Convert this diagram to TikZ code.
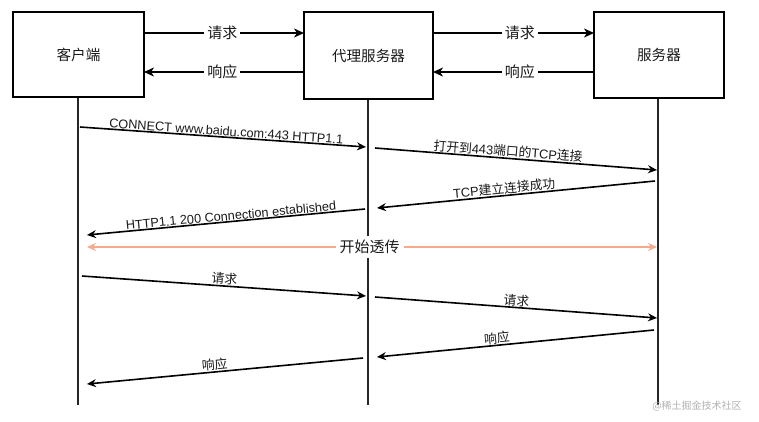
\documentclass[tikz,border=0pt]{standalone}
\usepackage{fontspec}
\setmainfont{Noto Sans CJK SC}
\newfontfamily\lat{Liberation Sans}
\usetikzlibrary{arrows.meta}
\definecolor{txt}{HTML}{1A1A1A}
\definecolor{orng}{RGB}{245,170,140}
\begin{document}
\begin{tikzpicture}[x=1pt,y=-1pt,
  box/.style={draw, line width=1.8pt, inner sep=0pt, text=txt, font=\fontsize{14.6}{16}\selectfont},
  life/.style={line width=1.6pt, draw=black!85},
  msg/.style={line width=1.6pt, -{Stealth[length=9pt,width=8pt,inset=3pt]}},
  top/.style={line width=1.8pt, -{Stealth[length=10pt,width=9pt,inset=3pt]}},
  tlab/.style={fill=white, text=txt, inner sep=3pt, font=\fontsize{15}{17}\selectfont},
  mlab/.style={sloped, above, inner sep=0.5pt, text=txt, font=\fontsize{12.8}{14}\selectfont},
  llab/.style={sloped, above, inner sep=0.5pt, text=txt, font=\lat\fontsize{12.7}{14}\selectfont}
]
\useasboundingbox (0,0) rectangle (759,421);
\fill[white] (0,0) rectangle (759,421);

% boxes
\node[box, minimum width=131pt, minimum height=85pt] (cli) at (78.5,54.5) {客户端};
\node[box, minimum width=129pt, minimum height=87pt] (pxy) at (368.5,55.5) {代理服务器};
\node[box, minimum width=130pt, minimum height=86pt] (srv) at (659,55) {服务器};

% lifeline ends
\coordinate (cliE) at (78,405);
\coordinate (pxyE) at (368,405);
\coordinate (srvE) at (658,405);
\draw[life] (cli.south -| cliE) -- (cliE);
\draw[life] (pxy.south -| pxyE) -- (pxyE);
\draw[life] (srv.south -| srvE) -- (srvE);

% top arrows
\coordinate (a1s) at (144,33); \coordinate (a1e) at (304,33);
\coordinate (a2s) at (304,72); \coordinate (a2e) at (144,72);
\coordinate (a3s) at (433,33); \coordinate (a3e) at (594,33);
\coordinate (a4s) at (594,72); \coordinate (a4e) at (433,72);
\draw[top] (a1s) -- node[tlab, pos=0.49] (l1) {请求} (a1e);
\draw[top] (a2s) -- node[tlab, pos=0.51] (l2) {响应} (a2e);
\draw[top] (a3s) -- node[tlab, pos=0.54] (l3) {请求} (a3e);
\draw[top] (a4s) -- node[tlab, pos=0.46] (l4) {响应} (a4e);

% messages
\coordinate (m1s) at (80,127);  \coordinate (m1e) at (366,147);
\coordinate (m2s) at (375,148); \coordinate (m2e) at (657,170);
\coordinate (m3s) at (655,181); \coordinate (m3e) at (377,208);
\coordinate (m4s) at (365,209); \coordinate (m4e) at (87,235);
\coordinate (m6s) at (82,276);  \coordinate (m6e) at (366,296);
\coordinate (m7s) at (375,297); \coordinate (m7e) at (657,318);
\coordinate (m8s) at (654,330); \coordinate (m8e) at (377,357);
\coordinate (m9s) at (363,358); \coordinate (m9e) at (87,384);

\draw[msg] (m1s) -- node[llab, pos=0.51] (t1) {CONNECT www.baidu.com:443 HTTP1.1} (m1e);
\draw[msg] (m2s) -- node[mlab, pos=0.47] (t2) {打开到{\lat 443}端口的{\lat TCP}连接} (m2e);
\draw[msg] (m3s) -- node[mlab, pos=0.54] (t3) {{\lat TCP}建立连接成功} (m3e);
\draw[msg] (m4s) -- node[llab, pos=0.48] (t4) {HTTP1.1 200 Connection established} (m4e);
\draw[msg] (m6s) -- node[mlab, pos=0.5] (t6) {请求} (m6e);
\draw[msg] (m7s) -- node[mlab, pos=0.5] (t7) {请求} (m7e);
\draw[msg] (m8s) -- node[mlab, pos=0.565] (t8) {响应} (m8e);
\draw[msg] (m9s) -- node[mlab, pos=0.535] (t9) {响应} (m9e);

% transparent tunnel
\coordinate (o1) at (87,247); \coordinate (o2) at (657,247);
\draw[line width=1.6pt, draw=orng, {Stealth[length=9pt,width=8pt,inset=3pt]}-{Stealth[length=9pt,width=8pt,inset=3pt]}] (o1) -- node[tlab, pos=0.496, inner sep=4pt] (t5) {开始透传} (o2);

% watermark
\node[text=black!30, font=\fontsize{10}{12}\selectfont, inner sep=0pt] (wm) at (697,406) {@稀土掘金技术社区};
\end{tikzpicture}
\end{document}
